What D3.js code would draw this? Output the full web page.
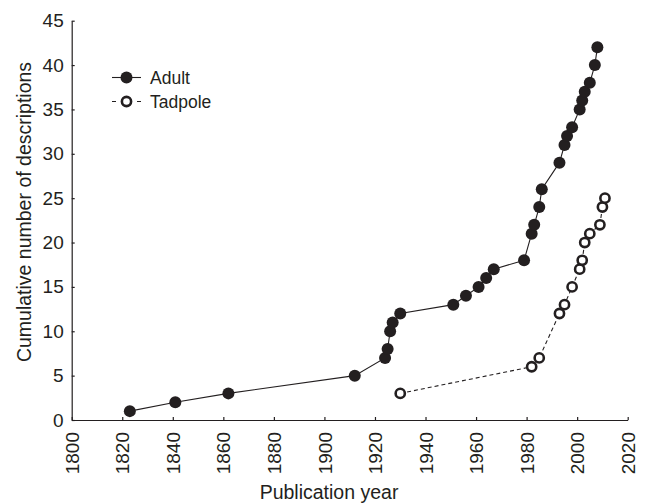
<!DOCTYPE html>
<html>
<head>
<meta charset="utf-8">
<script src="https://d3js.org/d3.v7.min.js"></script>
<style>
  body { margin: 0; background: #fff; }
  text { font-family: "Liberation Sans", Arial, sans-serif; fill: #231f20; }
</style>
</head>
<body>
<svg id="chart" width="647" height="504"></svg>
<script>
// data
const adultYears = [1823, 1841, 1862, 1912, 1924, 1925, 1926, 1927, 1930, 1951, 1956, 1961, 1964, 1967, 1979,
    1982, 1983, 1985, 1986, 1993, 1995, 1996, 1998, 2001, 2002, 2003, 2005, 2007, 2008];
const adultCounts = [1, 2, 3, 5, 7, 8, 10, 11, 12, 13, 14, 15, 16, 17, 18,
    21, 22, 24, 26, 29, 31, 32, 33, 35, 36, 37, 38, 40, 42];
const tadpoleYears = [1930, 1982, 1985, 1993, 1995, 1998, 2001, 2002, 2003, 2005, 2009, 2010, 2011];
const tadpoleCounts = [3, 6, 7, 12, 13, 15, 17, 18, 20, 21, 22, 24, 25];
const xTicks = d3.range(1800, 2021, 20);
const yTicks = d3.range(0, 46, 5);

const ink = "#231f20";
const svg = d3.select("#chart");

const x = d3.scaleLinear().domain([1800, 2020]).range([71.7, 627.7]);
const y = d3.scaleLinear().domain([0, 45]).range([420, 20.7]);

const adult = adultYears.map((yr, i) => ({ yr, n: adultCounts[i] }));
const tadpole = tadpoleYears.map((yr, i) => ({ yr, n: tadpoleCounts[i] }));

// axes
const xAxis = svg.append("g")
    .attr("transform", `translate(0,${y(0)})`)
    .call(d3.axisBottom(x).tickValues(xTicks).tickSizeInner(-3).tickSizeOuter(0).tickFormat(d3.format("d")));
xAxis.selectAll("text")
    .attr("transform", "rotate(-90)")
    .attr("text-anchor", "end")
    .attr("x", -12)
    .attr("y", 0)
    .attr("dy", "0.35em")
    .style("font-size", "19px");

const yAxis = svg.append("g")
    .attr("transform", `translate(${x(1800)},0)`)
    .call(d3.axisLeft(y).tickValues(yTicks).tickSizeInner(-3).tickSizeOuter(0));
yAxis.selectAll("text")
    .attr("x", -8)
    .style("font-size", "19px");

svg.selectAll(".domain, .tick line").attr("stroke", ink).attr("stroke-width", 1.2);
svg.selectAll(".tick text").style("fill", ink);

// lines
const line = d3.line().x(d => x(d.yr)).y(d => y(d.n));

svg.append("path").datum(adult)
    .attr("d", line)
    .attr("fill", "none")
    .attr("stroke", ink)
    .attr("stroke-width", 1.1);

svg.append("path").datum(tadpole)
    .attr("d", line)
    .attr("fill", "none")
    .attr("stroke", ink)
    .attr("stroke-width", 1.1)
    .attr("stroke-dasharray", "4,3");

// markers
svg.append("g").selectAll("circle").data(adult)
    .join("circle")
    .attr("cx", d => x(d.yr))
    .attr("cy", d => y(d.n))
    .attr("r", 6)
    .attr("fill", ink);

svg.append("g").selectAll("circle").data(tadpole)
    .join("circle")
    .attr("cx", d => x(d.yr))
    .attr("cy", d => y(d.n))
    .attr("r", 4.6)
    .attr("fill", "#fff")
    .attr("stroke", ink)
    .attr("stroke-width", 2.6);

// legend
const lg = svg.append("g");
lg.append("line").attr("x1", 112).attr("x2", 141).attr("y1", 77.5).attr("y2", 77.5)
    .attr("stroke", ink).attr("stroke-width", 1.1);
lg.append("circle").attr("cx", 126.5).attr("cy", 77.5).attr("r", 6).attr("fill", ink);
lg.append("text").attr("x", 150).attr("y", 84).style("font-size", "17.5px").text("Adult");

lg.append("line").attr("x1", 112).attr("x2", 141).attr("y1", 101.5).attr("y2", 101.5)
    .attr("stroke", ink).attr("stroke-width", 1.1).attr("stroke-dasharray", "4,21");
lg.append("circle").attr("cx", 126.5).attr("cy", 101.5).attr("r", 4.6)
    .attr("fill", "#fff").attr("stroke", ink).attr("stroke-width", 2.6);
lg.append("text").attr("x", 150).attr("y", 108).style("font-size", "17.5px").text("Tadpole");

// axis titles
svg.append("text")
    .attr("x", 329)
    .attr("y", 499)
    .attr("text-anchor", "middle")
    .style("font-size", "19.5px")
    .text("Publication year");

svg.append("text")
    .attr("transform", "rotate(-90)")
    .attr("x", -212)
    .attr("y", 31)
    .attr("text-anchor", "middle")
    .style("font-size", "19.5px")
    .text("Cumulative number of descriptions");
</script>
</body>
</html>
